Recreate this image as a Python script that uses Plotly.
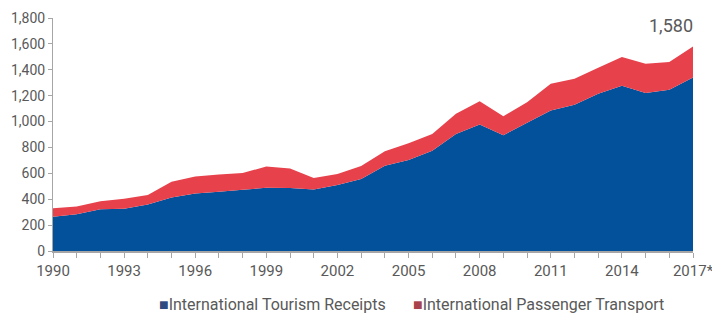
import plotly.graph_objects as go

years = list(range(1990, 2018))
tourism_receipts = [264, 284, 323, 326, 359, 413, 444, 457, 473, 488, 486, 475, 509, 556,
                    659, 703, 775, 904, 977, 894, 990, 1085, 1129, 1215, 1277, 1220, 1246, 1340]
passenger_transport = [67, 59, 62, 77, 73, 122, 132, 134, 129, 165, 152, 88, 85, 100,
                       111, 129, 129, 156, 180, 147, 160, 207, 202, 201, 222, 227, 214, 240]
tick_labels = [str(y) if (y - 1990) % 3 == 0 else "" for y in years]
tick_labels[-1] = "2017*"
y_ticks = list(range(0, 1801, 200))
total_label = "1,580"
series_names = ["International Tourism Receipts", "International Passenger Transport"]

BLUE = "#03519B"
RED = "#E7414B"
LEG_BLUE = "#2F4A7F"
LEG_RED = "#A8434A"
GREY = "#595959"
FONT = "Roboto"

fig = go.Figure()
fig.add_trace(go.Scatter(x=years, y=tourism_receipts, stackgroup="one", mode="none",
                         fillcolor=BLUE, name=series_names[0], showlegend=False))
fig.add_trace(go.Scatter(x=years, y=passenger_transport, stackgroup="one", mode="none",
                         fillcolor=RED, name=series_names[1], showlegend=False))

total_2017 = tourism_receipts[-1] + passenger_transport[-1]
fig.add_annotation(x=years[-1], y=total_2017, text=total_label, showarrow=False,
                   xanchor="right", yanchor="bottom", yshift=8, xshift=2,
                   font=dict(family=FONT, size=18, color=GREY))

# legend drawn as text annotations
for name, col, xp in [(series_names[0], LEG_BLUE, (157 - 53) / 640),
                      (series_names[1], LEG_RED, (411 - 53) / 640)]:
    fig.add_annotation(xref="paper", yref="paper", x=xp, y=(251 - 304) / 233,
                       xanchor="left", yanchor="middle", showarrow=False,
                       text=f"<span style='color:{col}'>■</span>{name}",
                       font=dict(family=FONT, size=16, color=GREY))

fig.update_layout(
    width=712, height=313,
    margin=dict(l=53, r=19, t=18, b=62, autoexpand=False),
    paper_bgcolor="white", plot_bgcolor="white",
    font=dict(family=FONT, color=GREY),
    showlegend=False,
    xaxis=dict(range=[1990, 2017], tickmode="array", tickvals=years, ticktext=tick_labels,
               showgrid=False, zeroline=False, showline=True, linecolor="#A6A6A6", linewidth=2,
               ticks="outside", ticklen=5, tickcolor="#A6A6A6", automargin=False,
               ticklabeloverflow="allow",
               tickfont=dict(family=FONT, size=15, color=GREY)),
    yaxis=dict(range=[0, 1800], tickmode="array", tickvals=y_ticks,
               ticktext=[f"{v:,}" for v in y_ticks], automargin=False,
               showgrid=False, zeroline=False, showline=True, linecolor="#A6A6A6", linewidth=1,
               ticks="outside", ticklen=4, tickcolor="#A6A6A6", ticklabeloverflow="allow",
               tickfont=dict(family=FONT, size=14, color=GREY)),
)

fig.write_html("out.html", config={"displayModeBar": False},
               post_script="document.body.style.margin='0';document.body.style.overflow='hidden';")
